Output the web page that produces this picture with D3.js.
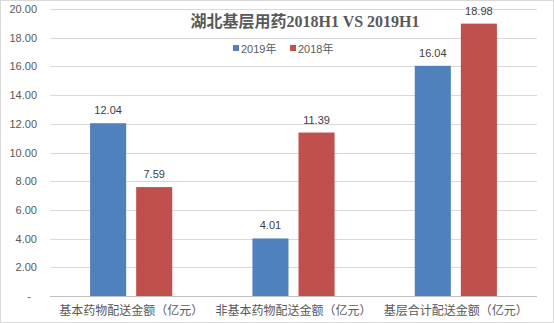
<!DOCTYPE html>
<html><head><meta charset="utf-8">
<script src="https://cdn.jsdelivr.net/npm/d3@7"></script>
<style>body{margin:0;background:#fff}svg{display:block}</style>
</head><body>
<script>
const categories = ["基本药物配送金额（亿元）", "非基本药物配送金额（亿元）", "基层合计配送金额（亿元）"];
const seriesNames = ["2019年", "2018年"];
const values2019 = [12.04, 4.01, 16.04];
const values2018 = [7.59, 11.39, 18.98];
const yTicks = [0, 2, 4, 6, 8, 10, 12, 14, 16, 18, 20];
const title = "湖北基层用药2018H1 VS 2019H1";
const colors = ["#4F81BD", "#C0504D"];

const W = 554, H = 323;
const svg = d3.select("body").append("svg").attr("width", W).attr("height", H);
svg.append("rect").attr("x",0.5).attr("y",0.5).attr("width",W-1).attr("height",H-1)
  .attr("fill","#fff").attr("stroke","#d9d9d9");

const mLeft = 50, mRight = 537, mTop = 9, mBottom = 296;
const y = d3.scaleLinear().domain([0, 20]).range([mBottom, mTop]);
const x0 = d3.scaleBand().domain(categories).range([mLeft, mRight]).paddingInner(0).paddingOuter(0);
const x1 = d3.scaleBand().domain(seriesNames).range([0, x0.bandwidth()]).paddingInner(0.217).paddingOuter(0.87);

// grid
svg.append("g").selectAll("line").data(yTicks).join("line")
  .attr("x1", mLeft).attr("x2", mRight)
  .attr("y1", d => Math.round(y(d)) + 0.5).attr("y2", d => Math.round(y(d)) + 0.5)
  .attr("stroke", d => d === 0 ? "#bfbfbf" : "#d9d9d9").attr("stroke-width", 1);

// y axis labels
const yAxis = d3.axisLeft(y).tickValues(yTicks).tickSize(0).tickPadding(0)
  .tickFormat(d => d === 0 ? "-" : d3.format(".2f")(d));
const ya = svg.append("g").attr("transform", `translate(${37},0)`).call(yAxis);
ya.select(".domain").remove();
ya.selectAll("text").attr("fill", "#595959").style("font-family", "'Liberation Sans', Arial, sans-serif").style("font-size", "11px")
  .attr("dx", d => d === 0 ? -6 : 0);

const data = categories.map((c, i) => ({cat: c, vals: [{s: seriesNames[0], v: values2019[i]}, {s: seriesNames[1], v: values2018[i]}]}));

const g = svg.append("g").selectAll("g").data(data).join("g")
  .attr("transform", d => `translate(${x0(d.cat)},0)`);
g.selectAll("rect").data(d => d.vals).join("rect")
  .attr("x", d => x1(d.s)).attr("width", x1.bandwidth())
  .attr("y", d => y(d.v)).attr("height", d => y(0) - y(d.v))
  .attr("fill", (d, i) => colors[i]);
g.selectAll("text").data(d => d.vals).join("text")
  .attr("x", d => x1(d.s) + x1.bandwidth() / 2).attr("y", d => y(d.v) - 9)
  .attr("text-anchor", "middle").attr("fill", "#404040")
  .style("font-family", "'Liberation Sans', Arial, sans-serif").style("font-size", "11px")
  .text(d => d3.format(".2f")(d.v));

// x axis labels
const xAxis = d3.axisBottom(x0).tickSize(0).tickPadding(0);
const xa = svg.append("g").attr("transform", `translate(0,${304})`).call(xAxis);
xa.select(".domain").remove();
xa.selectAll("text").attr("fill", "#595959").attr("dy", "0.9em")
  .style("font-family", "'Noto Sans CJK SC', sans-serif").style("font-size", "12px");

// title
svg.append("text").attr("x", 305).attr("y", 27).attr("text-anchor", "middle")
  .attr("fill", "#595959").style("font-family", "'Liberation Serif', 'Noto Sans CJK SC', serif")
  .style("font-size", "16px").style("font-weight", "bold").text(title);

// legend
const leg = svg.append("g").attr("transform", "translate(233,49)");
const legX = [0, 57];
seriesNames.forEach((s, i) => {
  leg.append("rect").attr("x", legX[i]).attr("y", -4).attr("width", 6).attr("height", 6).attr("fill", colors[i]);
  leg.append("text").attr("x", legX[i] + 8).attr("y", 0).attr("dy", "0.35em")
    .attr("fill", "#595959").style("font-family", "'Liberation Sans', 'Noto Sans CJK SC', sans-serif").style("font-size", "11px").text(s);
});
</script>
</body></html>
